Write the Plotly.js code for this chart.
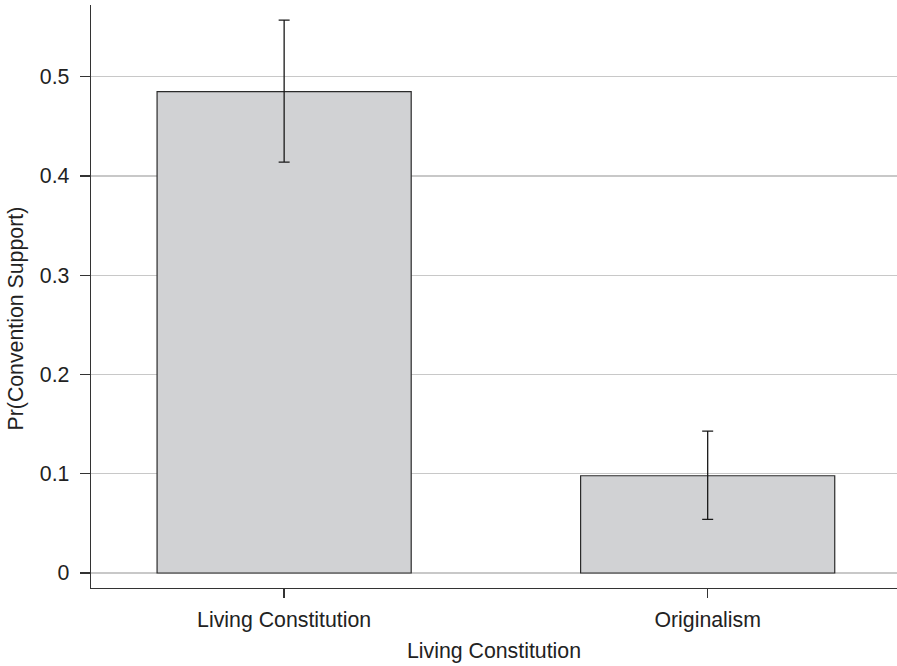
<!DOCTYPE html>
<html>
<head>
<meta charset="utf-8">
<script src="https://cdn.plot.ly/plotly-3.0.1.min.js"></script>
<style>html,body{margin:0;padding:0;background:#fff;}#chart{width:897px;height:666px;}</style>
</head>
<body>
<div id="chart"></div>
<script>
const categories = ["Living Constitution", "Originalism"];
const estimates = [0.485, 0.098];
const lowerCI = [0.414, 0.054];
const upperCI = [0.557, 0.143];
const yTickVals = [0, 0.1, 0.2, 0.3, 0.4, 0.5];
const yTickText = ["0", "0.1", "0.2", "0.3", "0.4", "0.5"];
const xTitle = "Living Constitution";
const yTitle = "Pr(Convention Support)";

const font = "Liberation Sans, Arial, Helvetica, sans-serif";
const fs = 21.3;

const trace = {
  type: "bar",
  x: [0, 1],
  y: estimates,
  width: 0.6,
  marker: {color: "#d1d2d4", line: {color: "#2b2b2b", width: 1.2}},
  error_y: {
    type: "data",
    symmetric: false,
    array: upperCI.map((u, i) => u - estimates[i]),
    arrayminus: estimates.map((e, i) => e - lowerCI[i]),
    color: "#1a1a1a",
    thickness: 1.3,
    width: 5.5
  },
  hoverinfo: "skip"
};

const layout = {
  width: 897,
  height: 666,
  margin: {l: 91, r: 0, t: 5, b: 78},
  paper_bgcolor: "#fff",
  plot_bgcolor: "#fff",
  showlegend: false,
  font: {family: font, size: fs, color: "#222"},
  xaxis: {
    range: [-0.456, 1.447],
    tickvals: [0, 1],
    ticktext: categories,
    showline: true,
    linecolor: "#333",
    linewidth: 1.3,
    ticks: "outside",
    ticklen: 9,
    tickcolor: "#333",
    tickwidth: 1.3,
    showgrid: false,
    zeroline: false,
    ticklabelstandoff: 3,
    tickfont: {family: font, size: fs, color: "#222"},
    title: {text: xTitle, font: {family: font, size: fs, color: "#222"}, standoff: 12}
  },
  yaxis: {
    range: [-0.0151, 0.5723],
    tickvals: yTickVals,
    ticktext: yTickText,
    showline: true,
    linecolor: "#333",
    linewidth: 1.3,
    ticks: "outside",
    ticklen: 10,
    tickcolor: "#333",
    tickwidth: 1.3,
    showgrid: true,
    gridcolor: "#c8c8c8",
    gridwidth: 1.2,
    zeroline: false,
    ticklabelstandoff: 6,
    tickfont: {family: font, size: fs, color: "#222"}
  },
  annotations: [{
    text: yTitle,
    xref: "paper", yref: "paper",
    x: (15 - 91) / 806, y: (588 - 318.5) / 583,
    xanchor: "center", yanchor: "middle",
    textangle: -90,
    showarrow: false,
    font: {family: font, size: fs, color: "#222"}
  }]
};

Plotly.newPlot("chart", [trace], layout, {displayModeBar: false, staticPlot: true});
</script>
</body>
</html>
